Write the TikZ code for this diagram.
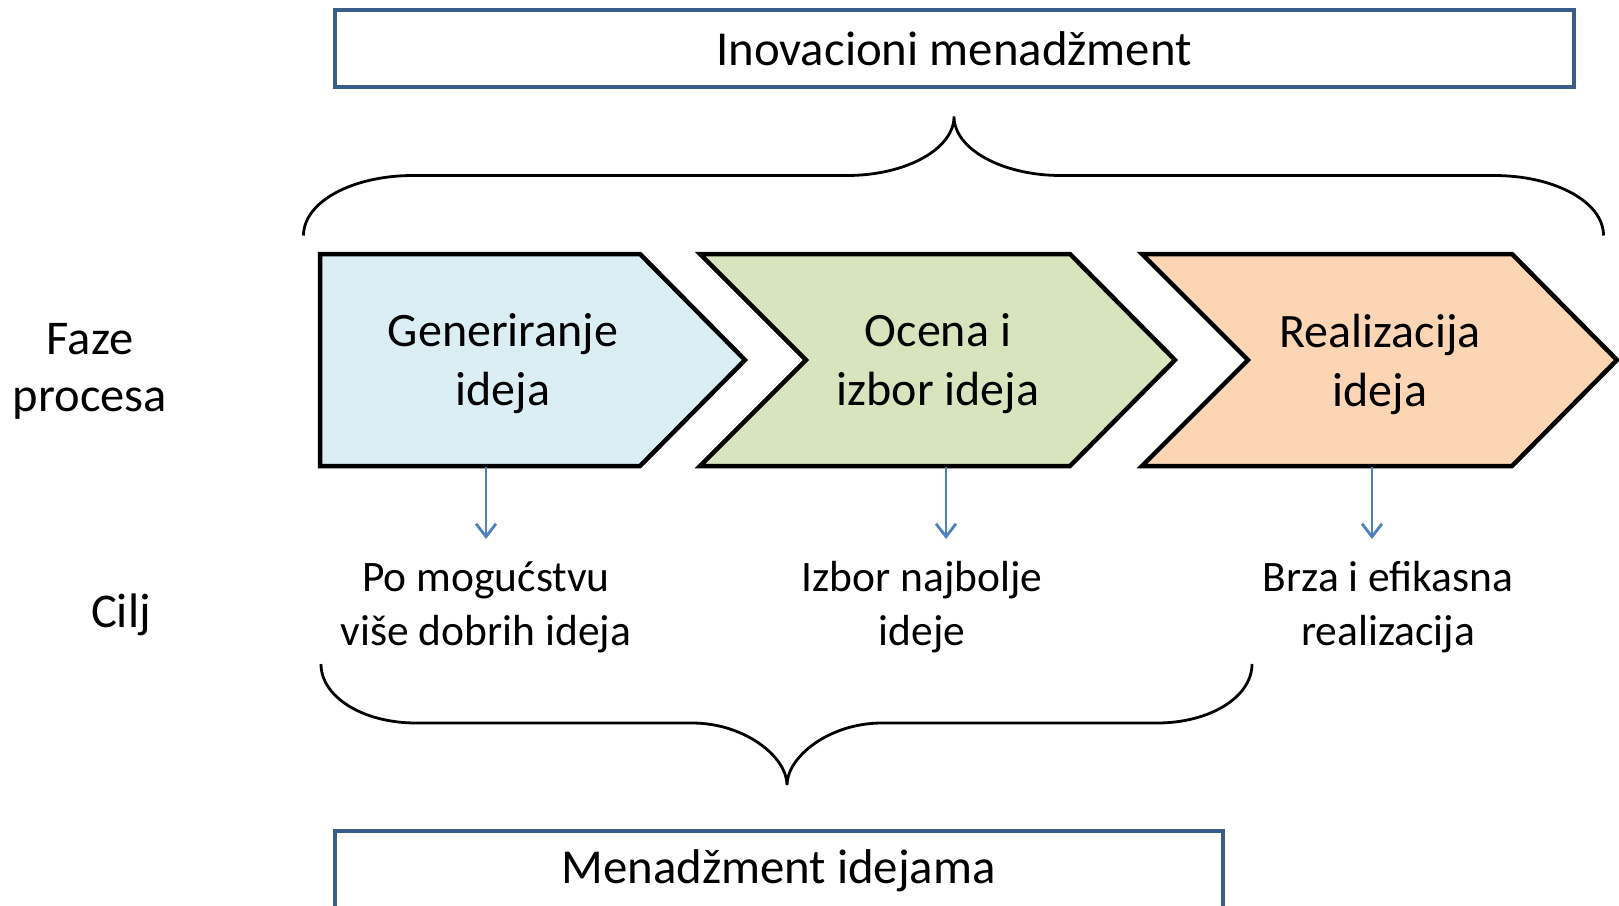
\documentclass[tikz,border=0pt]{standalone}
\usepackage{fontspec}
\setmainfont{Carlito}
\usetikzlibrary{arrows.meta}
\definecolor{boxblue}{RGB}{56,93,138}
\definecolor{arrblue}{RGB}{79,129,189}
\definecolor{fillblue}{RGB}{219,238,244}
\definecolor{fillgreen}{RGB}{215,228,189}
\definecolor{fillorange}{RGB}{252,213,181}
\tikzset{
  titlebox/.style={draw=boxblue, line width=4pt, inner sep=0pt, font=\fontsize{48.8}{58}\selectfont},
  chev/.style={draw=black, line width=4.5pt, line join=miter},
  chevtext/.style={align=center, font=\fontsize{48}{59}\selectfont, inner sep=0pt},
  goaltext/.style={align=center, font=\fontsize{43.5}{54}\selectfont, inner sep=0pt},
  sidetext/.style={align=center, font=\fontsize{48.5}{57}\selectfont, inner sep=0pt},
  brace/.style={draw=black, line width=2.8pt},
  goalarrow/.style={draw=arrblue, line width=2.8pt, -{Straight Barb[length=13pt, width=20pt, line width=2.8pt]}}
}
\begin{document}
\begin{tikzpicture}[x=1pt,y=-1pt]
\useasboundingbox (0,0) rectangle (1619,905);
\clip (0,0) rectangle (1619,905);

% top box
\node[titlebox, minimum width=1239pt, minimum height=76.4pt] (top) at (954,48.5) {Inovacioni menadžment};

% top brace
\coordinate (tl) at (303.5,235.5);
\coordinate (tr) at (1603.5,235.5);
\coordinate (tt) at (954,116.5);
\draw[brace] (tl) .. controls (303.5,202) and (352,175.5) .. (413,175.5)
  -- (847,175.5) .. controls (906,175.5) and (954,149) .. (tt)
  .. controls (954,149) and (1002,175.5) .. (1061,175.5)
  -- (1494,175.5) .. controls (1555,175.5) and (1603.5,202) .. (tr);

% chevrons
\draw[chev, fill=fillblue] (320,254) -- (640,254) -- (745,360) -- (640,466) -- (320,466) -- cycle;
\draw[chev, fill=fillgreen] (700,254) -- (1070,254) -- (1175,360) -- (1070,466) -- (700,466) -- (806,360) -- cycle;
\draw[chev, fill=fillorange] (1142,254) -- (1512,254) -- (1617,360) -- (1512,466) -- (1142,466) -- (1248,360) -- cycle;

\node[chevtext] (c1) at (503,364) {Generiranje\\ideja};
\node[chevtext] (c2) at (938,364) {Ocena i\\izbor ideja};
\node[chevtext] (c3) at (1380,364) {Realizacija\\ideja};

% side labels
\node[sidetext] (faze) at (90,371) {Faze\\procesa};
\node[sidetext] (cilj) at (121,615) {Cilj};

% goals
\node[goaltext] (g1) at (486,607) {Po mogućstvu\\više dobrih ideja};
\node[goaltext] (g2) at (922,607) {Izbor najbolje\\ideje};
\node[goaltext] (g3) at (1388,607) {Brza i efikasna\\realizacija};

% arrows
\coordinate (a1s) at (486,467);
\coordinate (a1e) at (486,539);
\coordinate (a2s) at (946,467);
\coordinate (a2e) at (946,539);
\coordinate (a3s) at (1372,467);
\coordinate (a3e) at (1372,539);
\draw[goalarrow] (a1s) -- (a1e);
\draw[goalarrow] (a2s) -- (a2e);
\draw[goalarrow] (a3s) -- (a3e);

% bottom brace
\coordinate (bl) at (321,664);
\coordinate (br) at (1252,664);
\coordinate (bt) at (787,785);
\draw[brace] (bl) .. controls (321,697) and (363,723) .. (416,723)
  -- (692,723) .. controls (745,723) and (787,757) .. (bt)
  .. controls (787,757) and (829,723) .. (882,723)
  -- (1157,723) .. controls (1210,723) and (1252,697) .. (br);

% bottom box
\node[titlebox, anchor=north, minimum width=888pt, minimum height=80pt] (bot) at (778.5,829) {Menadžment idejama};
\end{tikzpicture}
\end{document}
